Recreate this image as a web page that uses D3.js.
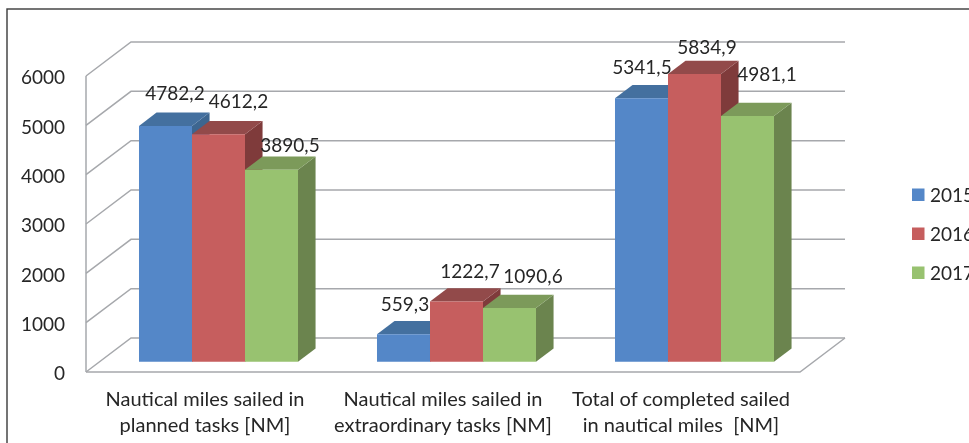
<!DOCTYPE html>
<html lang="en">
<head>
    <meta charset="UTF-8">
    <title>Nautical miles sailed</title>
    <script src="https://d3js.org/d3.v7.min.js"></script>
    <style>
        html, body { margin: 0; background: #fff; overflow: hidden; }
        svg { display: block; filter: blur(0.45px); }
        text { font-family: Lato, "Open Sans", sans-serif; font-size: 19px; fill: #262626; }
        .cat text { font-size: 20px; }
    </style>
</head>
<body>
    <div id="chart"></div>
    <script>
        const categories = [
            "Nautical miles sailed in planned tasks [NM]",
            "Nautical miles sailed in extraordinary tasks [NM]",
            "Total of completed sailed in nautical miles [NM]"
        ];
        const categoryLines = [
            ["Nautical miles sailed in", "planned tasks [NM]"],
            ["Nautical miles sailed in", "extraordinary tasks [NM]"],
            ["Total of completed sailed", "in nautical miles  [NM]"]
        ];
        const years = ["2015", "2016", "2017"];
        const values2015 = [4782.2, 559.3, 5341.5];
        const values2016 = [4612.2, 1222.7, 5834.9];
        const values2017 = [3890.5, 1090.6, 4981.1];
        const yTicks = [0, 1000, 2000, 3000, 4000, 5000, 6000];

        const seriesValues = [values2015, values2016, values2017];
        const fronts = ["#5487c8", "#c65e5e", "#98c270"];
        const tops = ["#44709f", "#924a4a", "#7c9a5a"];
        const sides = ["#3d6690", "#7f3b3b", "#6b844e"];

        // labels were hand placed in the original, offset from the top middle of each bar
        const labelNudge = [
            [[9.5, -26], [20, -26], [18.5, -18]],
            [[1.5, -23], [13.5, -23], [23.5, -25]],
            [[0.5, -24], [12.5, -20], [19.5, -35]]
        ];

        const svg = d3.select("#chart").append("svg")
            .attr("width", 969)
            .attr("height", 443);

        // outer frame runs off the page on the right and bottom
        svg.append("rect")
            .attr("x", 7).attr("y", 9)
            .attr("width", 1000).attr("height", 500)
            .attr("fill", "none")
            .attr("stroke", "#3a3a3a")
            .attr("stroke-width", 1.4);

        const y = d3.scaleLinear().domain([0, 6000]).range([372, 76]);
        const x0 = d3.scaleBand().domain(categories).range([86, 800]);
        const x1 = d3.scaleBand().domain(years).range([0, x0.bandwidth()]).paddingOuter(0.745);

        // depth goes 0 (front of floor) to 1 (back wall)
        const depthX = 45, depthY = -34;
        const barFront = 0.3, barBack = 0.69;
        const pt = (px, val, d) => [px + d * depthX, y(val) + d * depthY];
        const poly = pts => pts.map(p => p.join(",")).join(" ");

        const gridColor = "#a6a8ac";
        const walls = svg.append("g").attr("fill", "none").attr("stroke", gridColor).attr("stroke-width", 1.5);

        yTicks.forEach(t => {
            walls.append("polyline")
                .attr("points", poly([pt(86, t, 0), pt(86, t, 1), pt(800, t, 1)]));
        });
        walls.append("polyline")
            .attr("points", poly([pt(86, 0, 0), pt(800, 0, 0), pt(800, 0, 1)]));
        walls.append("line")
            .attr("x1", 86).attr("x2", 86)
            .attr("y1", y(0)).attr("y2", y(6000));

        const bars = svg.append("g");
        categories.forEach((cat, c) => {
            years.forEach((yr, s) => {
                const val = seriesValues[s][c];
                const left = x0(cat) + x1(yr);
                const right = left + x1.bandwidth();
                const g = bars.append("g");
                g.append("polygon")
                    .attr("fill", sides[s])
                    .attr("points", poly([pt(right, 0, barFront), pt(right, val, barFront), pt(right, val, barBack), pt(right, 0, barBack)]));
                g.append("polygon")
                    .attr("fill", tops[s])
                    .attr("points", poly([pt(left, val, barFront), pt(right, val, barFront), pt(right, val, barBack), pt(left, val, barBack)]));
                g.append("polygon")
                    .attr("fill", fronts[s])
                    .attr("points", poly([pt(left, 0, barFront), pt(right, 0, barFront), pt(right, val, barFront), pt(left, val, barFront)]));
            });
        });

        const labels = svg.append("g").attr("text-anchor", "middle");
        categories.forEach((cat, c) => {
            years.forEach((yr, s) => {
                const val = seriesValues[s][c];
                const top = pt(x0(cat) + x1(yr) + x1.bandwidth() / 2, val, barFront);
                labels.append("text")
                    .attr("x", top[0] + labelNudge[c][s][0])
                    .attr("y", top[1] + labelNudge[c][s][1])
                    .text(val.toFixed(1).replace(".", ","));
            });
        });

        const yAxis = svg.append("g")
            .attr("transform", "translate(86,0)")
            .attr("font-family", null)
            .attr("font-size", null)
            .call(d3.axisLeft(y).tickValues(yTicks).tickSize(0).tickPadding(21).tickFormat(d3.format("d")));
        yAxis.select(".domain").remove();
        yAxis.selectAll("text").attr("dy", "0.42em");

        const catLabels = svg.append("g").attr("class", "cat").attr("text-anchor", "middle");
        categories.forEach((cat, c) => {
            categoryLines[c].forEach((line, i) => {
                catLabels.append("text")
                    .attr("x", x0(cat) + x0.bandwidth() / 2)
                    .attr("y", 406 + i * 26)
                    .style("white-space", "pre")
                    .text(line);
            });
        });

        const legendY = d3.scalePoint().domain(years).range([195, 273]);
        const legend = svg.append("g");
        years.forEach((yr, s) => {
            legend.append("rect")
                .attr("x", 912).attr("y", legendY(yr) - 6.5)
                .attr("width", 12.5).attr("height", 12.5)
                .attr("fill", fronts[s]);
            legend.append("text")
                .attr("x", 930).attr("y", legendY(yr) + 7)
                .text(yr);
        });
    </script>
</body>
</html>
